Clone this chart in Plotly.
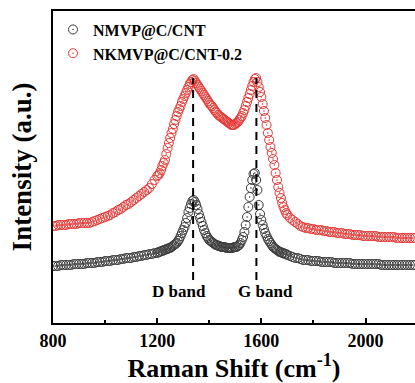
import plotly.graph_objects as go

# Raman shift grid (cm^-1): finer steps across the D/G band region
shift_low = list(range(800, 1200, 10))
shift_mid = list(range(1200, 1700, 5))
shift_high = list(range(1700, 2191, 10))
raman_shift = shift_low + shift_mid + shift_high

# NMVP@C/CNT intensity (a.u.)
nmvp_low = [34, 34, 34, 35, 35, 35, 35, 35, 36, 36,
            36, 36, 36, 37, 37, 37, 37, 38, 38, 38,
            39, 39, 39, 40, 40, 40, 41, 41, 42, 42,
            42, 43, 43, 44, 44, 45, 45, 46, 46, 47]
nmvp_mid = [47, 48, 48, 49, 49, 50, 50, 51, 51, 52,
            52, 53, 54, 55, 56, 57, 59, 61, 64, 67,
            70, 73, 77, 82, 88, 92, 96, 99, 100, 98,
            95, 91, 86, 82, 78, 74, 70, 67, 64, 62,
            60, 59, 58, 57, 56, 55, 55, 54, 54, 53,
            53, 53, 53, 52, 52, 52, 52, 52, 52, 53,
            53, 53, 54, 55, 57, 60, 63, 68, 75, 83,
            93, 103, 112, 120, 126, 127, 120, 110, 95, 86,
            80, 75, 71, 67, 64, 61, 59, 57, 55, 53,
            52, 51, 50, 49, 48, 48, 47, 47, 46, 46]
nmvp_high = [45, 44, 43, 42, 42, 41, 40, 40, 40, 39,
             39, 39, 39, 38, 38, 38, 38, 38, 37, 37,
             37, 37, 37, 37, 37, 36, 36, 36, 36, 36,
             36, 36, 36, 36, 36, 36, 35, 35, 35, 35,
             35, 35, 35, 35, 35, 35, 35, 35, 35, 35]
nmvp = nmvp_low + nmvp_mid + nmvp_high

# NKMVP@C/CNT-0.2 intensity (a.u.)
nkmvp_low = [74, 74, 75, 75, 75, 75, 76, 76, 76, 76,
             77, 77, 77, 77, 77, 78, 79, 80, 81, 82,
             83, 84, 85, 87, 88, 90, 91, 93, 95, 96,
             98, 100, 102, 104, 106, 108, 110, 112, 116, 120]
nkmvp_mid = [124, 125, 127, 130, 134, 137, 140, 146, 152, 157,
             162, 167, 171, 176, 180, 184, 188, 191, 194, 198,
             201, 204, 207, 210, 213, 216, 218, 220, 221, 219,
             217, 215, 213, 211, 209, 207, 205, 203, 201, 199,
             197, 195, 194, 192, 190, 188, 187, 185, 184, 183,
             182, 181, 180, 179, 178, 177, 176, 175, 175, 175,
             176, 177, 178, 180, 182, 184, 187, 190, 194, 198,
             202, 206, 210, 214, 218, 221, 222, 218, 213, 208,
             203, 196, 189, 182, 175, 167, 160, 153, 147, 141,
             135, 127, 120, 113, 107, 102, 97, 93, 90, 87]
nkmvp_high = [85, 82, 80, 78, 76, 74, 73, 72, 72, 71,
              71, 70, 70, 70, 69, 69, 68, 68, 68, 67,
              67, 67, 66, 66, 66, 65, 65, 65, 65, 64,
              64, 64, 64, 64, 64, 63, 63, 63, 63, 63,
              63, 63, 62, 62, 62, 62, 62, 62, 62, 62]
nkmvp = nkmvp_low + nkmvp_mid + nkmvp_high

# Band positions and labels
band_pos = [1338, 1581]
band_names = ["D band", "G band"]
band_label_x = [1282, 1616]
band_top = 222
band_bottom = 20
label_y = 9

x_ticks = [800, 1200, 1600, 2000]

FONT = "Liberation Serif"

fig = go.Figure()
fig.add_trace(go.Scatter(
    x=raman_shift, y=nmvp, mode="markers", name="NMVP@C/CNT",
    marker=dict(symbol="circle-open-dot", size=9, color="#3c3c3c",
                line=dict(width=1, color="#3c3c3c")),
))
fig.add_trace(go.Scatter(
    x=raman_shift, y=nkmvp, mode="markers", name="NKMVP@C/CNT-0.2",
    marker=dict(symbol="circle-open-dot", size=9, color="#e53935",
                line=dict(width=1, color="#e53935")),
))

for pos in band_pos:
    fig.add_shape(type="line", xref="x", yref="y", x0=pos, x1=pos,
                  y0=band_bottom, y1=band_top, layer="above",
                  line=dict(color="black", width=2, dash="8px,6px"))

for name, lx in zip(band_names, band_label_x):
    fig.add_annotation(x=lx, y=label_y, xref="x", yref="y", text=f"<b>{name}</b>",
                       showarrow=False,
                       font=dict(family=FONT, size=17, color="black"))

fig.update_layout(
    width=415, height=383,
    margin=dict(l=53, r=0, t=11, b=60),
    plot_bgcolor="white", paper_bgcolor="white",
    font=dict(family=FONT, color="black"),
    showlegend=True,
    legend=dict(x=0.0, y=0.995, xanchor="left", yanchor="top",
                bgcolor="rgba(0,0,0,0)", borderwidth=0,
                font=dict(family=FONT, size=16, color="black", weight="bold"),
                tracegroupgap=0, itemwidth=30),
    xaxis=dict(
        range=[800, 2190], tickvals=x_ticks, ticktext=[f"<b>{v}</b>" for v in x_ticks],
        ticks="inside", ticklen=5, tickwidth=1.5, tickcolor="black",
        minor=dict(ticks="inside", ticklen=3, dtick=200, tick0=800, tickcolor="black", tickwidth=1.5),
        showline=True, linecolor="black", linewidth=2, mirror=True,
        showgrid=False, zeroline=False,
        tickfont=dict(family=FONT, size=18, color="black"),
        title=dict(text="<b>Raman Shift (cm<sup>-1</sup>)</b>", standoff=2,
                   font=dict(family=FONT, size=26, color="black")),
    ),
    yaxis=dict(
        range=[-23, 289], showticklabels=False, ticks="",
        showline=True, linecolor="black", linewidth=2, mirror=False,
        showgrid=False, zeroline=False,
        title=dict(text="<b>Intensity (a.u.)</b>", standoff=12,
                   font=dict(family=FONT, size=27, color="black")),
    ),
)

fig.write_html("out.html")
